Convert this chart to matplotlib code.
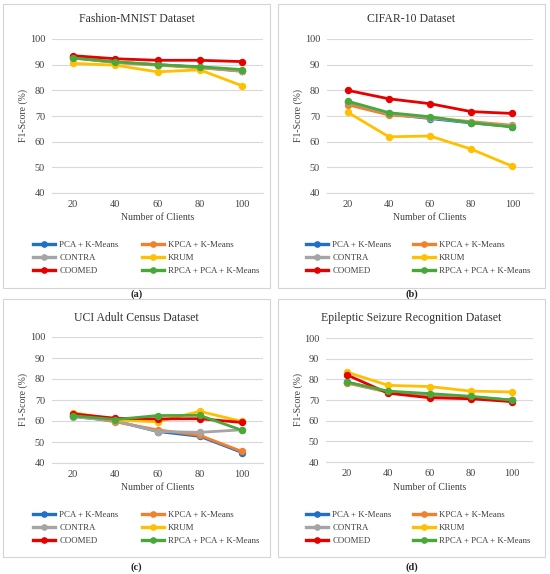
import matplotlib
matplotlib.use("Agg")
import matplotlib.pyplot as plt
from matplotlib.lines import Line2D
from matplotlib.patches import Rectangle

clients = [20, 40, 60, 80, 100]
methods = ["PCA + K-Means", "KPCA + K-Means", "CONTRA", "KRUM", "COOMED",
           "RPCA + PCA + K-Means"]
colors = ["#2070c8", "#f0812f", "#a5a5a5", "#ffc000", "#e60000", "#4aa83a"]

# F1-scores, one list per method, same order as methods
fashion_pca = [92.8, 91.0, 90.0, 89.0, 87.5]
fashion_kpca = [92.6, 90.8, 89.8, 88.8, 87.4]
fashion_contra = [92.7, 90.9, 90.0, 89.0, 87.6]
fashion_krum = [90.5, 89.8, 87.2, 88.0, 81.8]
fashion_coomed = [93.5, 92.3, 91.7, 91.7, 91.2]
fashion_rpca = [92.6, 91.1, 90.0, 89.2, 88.1]

cifar_pca = [75.3, 70.8, 69.0, 67.3, 65.9]
cifar_kpca = [74.4, 70.4, 69.3, 67.8, 66.4]
cifar_contra = [75.6, 71.0, 69.4, 67.4, 66.0]
cifar_krum = [71.5, 61.9, 62.2, 57.1, 50.4]
cifar_coomed = [80.0, 76.7, 74.8, 71.7, 71.0]
cifar_rpca = [75.8, 71.3, 69.7, 67.4, 65.7]

uci_pca = [62.2, 60.0, 55.0, 52.7, 45.0]
uci_kpca = [62.8, 59.6, 55.8, 53.2, 45.5]
uci_contra = [62.0, 60.2, 55.0, 54.6, 55.8]
uci_krum = [64.0, 60.5, 59.6, 64.6, 59.8]
uci_coomed = [63.4, 61.3, 61.0, 61.1, 59.3]
uci_rpca = [62.5, 60.7, 62.6, 62.7, 55.6]

eeg_pca = [78.6, 74.0, 72.6, 71.3, 69.9]
eeg_kpca = [78.2, 73.8, 72.4, 71.2, 69.8]
eeg_contra = [78.5, 74.1, 72.7, 71.5, 70.0]
eeg_krum = [83.5, 77.1, 76.5, 74.3, 73.9]
eeg_coomed = [82.2, 73.3, 71.1, 70.6, 69.2]
eeg_rpca = [78.7, 74.3, 73.1, 71.8, 69.9]

panels = [
    ("Fashion-MNIST Dataset", "(a)",
     [fashion_pca, fashion_kpca, fashion_contra, fashion_krum, fashion_coomed, fashion_rpca]),
    ("CIFAR-10 Dataset", "(b)",
     [cifar_pca, cifar_kpca, cifar_contra, cifar_krum, cifar_coomed, cifar_rpca]),
    ("UCI Adult Census Dataset", "(c)",
     [uci_pca, uci_kpca, uci_contra, uci_krum, uci_coomed, uci_rpca]),
    ("Epileptic Seizure Recognition Dataset", "(d)",
     [eeg_pca, eeg_kpca, eeg_contra, eeg_krum, eeg_coomed, eeg_rpca]),
]

W, H = 550, 574
plt.rcParams["font.family"] = ["Liberation Serif", "DejaVu Serif"]
fig = plt.figure(figsize=(W / 100, H / 100), dpi=100)


def fx(px):
    return px / W


def fy(py):
    return 1 - py / H


# pixel layout: box (l, t, r, b), axes (l, t, r, b), title y, xlabel y,
# legend middle row y, legend col x's, caption y
layout = [
    dict(box=(3, 4, 270, 288), ax=(52, 39, 263, 193), title=19, xlab=218,
         leg=258, cols=(33, 142), cap=294, ylab=23),
    dict(box=(278, 4, 545, 288), ax=(327, 39, 533, 193), title=19, xlab=218,
         leg=258, cols=(306, 413), cap=294, ylab=298),
    dict(box=(3, 299, 270, 557), ax=(52, 337, 263, 463), title=318, xlab=487,
         leg=528, cols=(33, 142), cap=567, ylab=23),
    dict(box=(278, 299, 545, 557), ax=(326, 338, 533, 462), title=318, xlab=487,
         leg=528, cols=(306, 413), cap=567, ylab=298),
]

for (title, cap, series), lay in zip(panels, layout):
    bl, bt, br, bb = lay["box"]
    fig.patches.append(Rectangle((fx(bl), fy(bb)), fx(br - bl), (bb - bt) / H,
                                 transform=fig.transFigure, fill=False,
                                 edgecolor="#d4d4d4", linewidth=0.8))
    al, at, ar, ab = lay["ax"]
    ax = fig.add_axes([fx(al), fy(ab), fx(ar - al), (ab - at) / H])
    xs = range(len(clients))
    for name, col, vals in zip(methods, colors, series):
        ax.plot(xs, vals, color=col, lw=2.0, marker="o", ms=4.3, label=name)
    ax.set_xlim(-0.5, len(clients) - 0.5)
    ax.set_ylim(40, 100)
    ax.set_yticks(range(40, 101, 10))
    ax.set_xticks(list(xs))
    ax.set_xticklabels([str(c) for c in clients])
    ax.tick_params(length=0, labelsize=7.4, colors="#404040", pad=5)
    ax.grid(axis="y", color="#d9d9d9", lw=0.8)
    ax.set_axisbelow(True)
    for s in ["top", "right", "left"]:
        ax.spines[s].set_visible(False)
    ax.spines["bottom"].set_color("#d9d9d9")
    ax.spines["bottom"].set_linewidth(0.8)

    cx = fx((bl + br) / 2)
    fig.text(cx, fy(lay["title"]), title, ha="center", va="center",
             fontsize=8.5, color="#333333")
    fig.text(fx((al + ar) / 2), fy(lay["xlab"]), "Number of Clients",
             ha="center", va="center", fontsize=7.0, color="#404040")
    fig.text(fx(lay["ylab"]), fy((at + ab) / 2), "F1-Score (%)", rotation=90,
             ha="center", va="center", fontsize=7.0, color="#404040")
    fig.text(cx, fy(lay["cap"]), cap, ha="center", va="center",
             fontsize=7.5, fontweight="bold", color="#222222")

    handles = [Line2D([], [], color=c, lw=2.4, marker="o", ms=3.8) for c in colors]
    for ci, colx in enumerate(lay["cols"]):
        idx = [ci, ci + 2, ci + 4]
        leg = fig.legend([handles[i] for i in idx], [methods[i] for i in idx],
                         loc="center left", bbox_to_anchor=(fx(colx), fy(lay["leg"])),
                         frameon=False, fontsize=6.4, handlelength=2.5,
                         handletextpad=0.45, labelspacing=0.55, borderpad=0,
                         borderaxespad=0)
        for t in leg.get_texts():
            t.set_color("#404040")

fig.savefig("out.png", dpi=100)
